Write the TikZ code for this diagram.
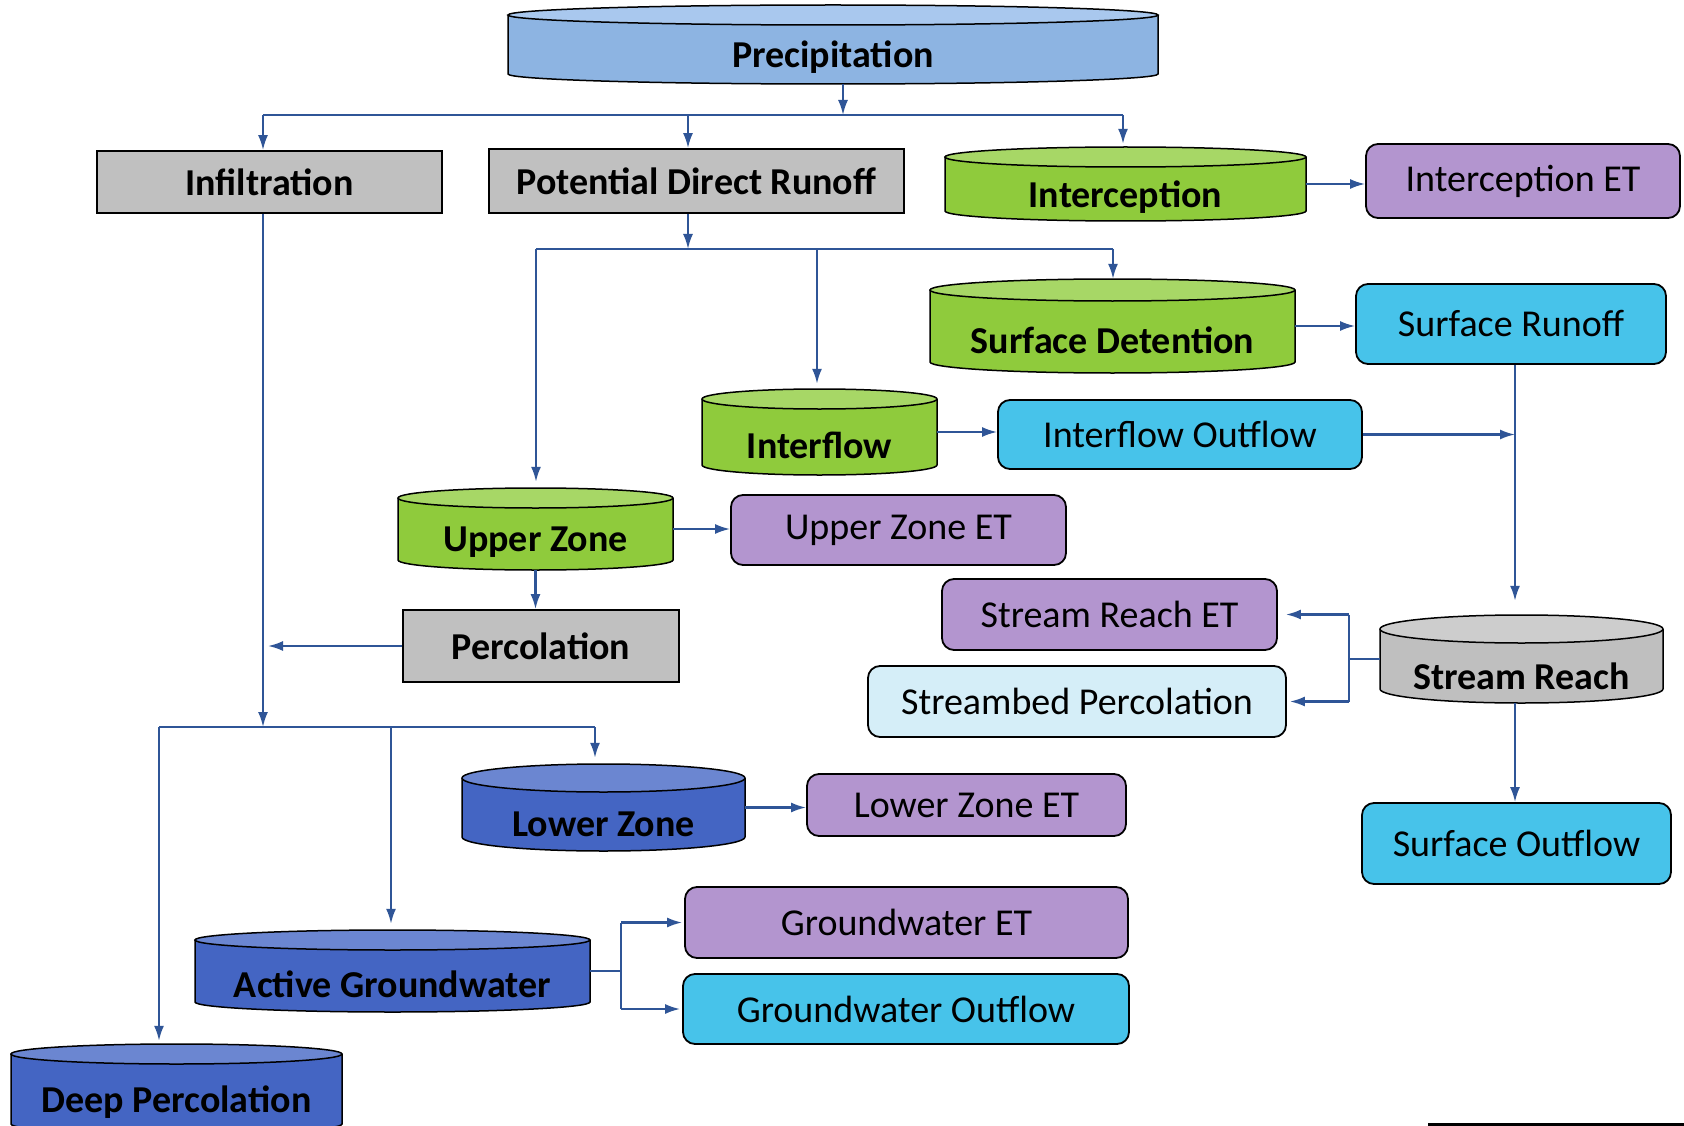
\documentclass[tikz,border=0pt]{standalone}
\usepackage{fontspec}
\setmainfont{Carlito}
\usetikzlibrary{arrows.meta}
\definecolor{arrowc}{HTML}{2F5597}
\definecolor{prbody}{HTML}{8DB4E2}
\definecolor{prtop}{HTML}{A9C8EE}
\definecolor{grbody}{HTML}{8FCB3C}
\definecolor{grtop}{HTML}{A7D766}
\definecolor{bluebody}{HTML}{4465C3}
\definecolor{bluetop}{HTML}{6B86D1}
\definecolor{graybody}{HTML}{BFBFBF}
\definecolor{graytop}{HTML}{CDCDCD}
\definecolor{purplef}{HTML}{B395CF}
\definecolor{cyanf}{HTML}{47C3EA}
\definecolor{lightbf}{HTML}{D5EEF8}
\definecolor{grayf}{HTML}{C0C0C0}
\newcommand\cylnode[9]{%
 \pgfmathsetmacro\cylcx{(#2+#3)/2}%
 \pgfmathsetmacro\cylrx{(#3-#2)/2}%
 \pgfmathsetmacro\cylyt{-(#4+#6)}%
 \pgfmathsetmacro\cylyb{-(#5-#6)}%
 \pgfmathsetmacro\cylym{-(#4+#5)/2}%
 \pgfmathsetmacro\cylytx{-(#4+2*#6+#5)/2-3}%
 \pgfmathsetmacro\cylw{#3-#2}%
 \pgfmathsetmacro\cylh{#5-#4}%
 \fill[#7] (#2,\cylyt) -- (#2,\cylyb) arc[start angle=180,end angle=360,x radius=\cylrx,y radius=#6] -- (#3,\cylyt) arc[start angle=0,end angle=180,x radius=\cylrx,y radius=#6] -- cycle;
 \filldraw[fill=#8, draw=black, line width=1.5pt] (\cylcx,\cylyt) ellipse[x radius=\cylrx, y radius=#6];
 \draw[black, line width=1.5pt] (#2,\cylyt) -- (#2,\cylyb) arc[start angle=180,end angle=360,x radius=\cylrx,y radius=#6] -- (#3,\cylyt);
 \node[inner sep=0pt, minimum width=\cylw pt, minimum height=\cylh pt] (#1) at (\cylcx,\cylym) {};
 \node[cyltxt] (#1-t) at (\cylcx,\cylytx) {#9};
}
\begin{document}
\begin{tikzpicture}[x=1pt,y=1pt,
 ln/.style={draw=arrowc, line width=2.1pt},
 arr/.style={ln, -{Latex[length=15pt,width=10pt]}},
 cyltxt/.style={font=\fontsize{38}{44}\selectfont\bfseries, inner sep=0pt},
 gbox/.style={draw=black, line width=1.8pt, fill=grayf, inner sep=0pt, font=\fontsize{38}{44}\selectfont\bfseries},
 rbox/.style={draw=black, line width=1.8pt, rounded corners=12pt, inner sep=0pt, font=\fontsize{38}{44}\selectfont},
 pbox/.style={rbox, fill=purplef},
 cbox/.style={rbox, fill=cyanf},
 lbox/.style={rbox, fill=lightbf}]
\useasboundingbox (0,0) rectangle (1684,-1126);
\fill[white] (0,0) rectangle (1684,-1126);
\clip (0,0) rectangle (1684,-1126);

% cylinders: name, L, R, T, B, ry, body, top, text
\cylnode{prec}{508}{1158}{5}{84}{10}{prbody}{prtop}{Precipitation}
\cylnode{intc}{945}{1306}{147}{221}{10}{grbody}{grtop}{Interception}
\cylnode{sd}{930}{1295}{279}{373}{11}{grbody}{grtop}{Surface Detention}
\cylnode{ifl}{702}{937}{389}{475}{10}{grbody}{grtop}{Interflow}
\cylnode{uz}{398}{673}{488}{570}{10}{grbody}{grtop}{Upper Zone}
\cylnode{strr}{1380}{1663}{615}{703}{14}{graybody}{graytop}{Stream Reach}
\cylnode{lz}{462}{745}{764}{851}{14}{bluebody}{bluetop}{Lower Zone}
\cylnode{ag}{195}{590}{930}{1012}{10}{bluebody}{bluetop}{Active Groundwater}
\cylnode{dp}{11}{342}{1044}{1134}{10}{bluebody}{bluetop}{Deep Percolation}

% rectangular boxes
\node[gbox, minimum width=345pt, minimum height=62pt] (infl) at (269.5,-182) {Infiltration};
\node[gbox, minimum width=415pt, minimum height=64pt] (pdr) at (696.5,-181) {Potential Direct Runoff};
\node[gbox, minimum width=276pt, minimum height=72pt] (perc) at (541,-646) {Percolation};

% rounded boxes
\node[pbox, minimum width=314pt, minimum height=74pt] (iet) at (1523,-181) {Interception ET};
\node[cbox, minimum width=310pt, minimum height=80pt] (srun) at (1511,-324) {Surface Runoff};
\node[cbox, minimum width=364pt, minimum height=69pt] (io) at (1180,-434.5) {Interflow Outflow};
\node[pbox, minimum width=335pt, minimum height=70pt] (uzet) at (898.5,-530) {Upper Zone ET};
\node[pbox, minimum width=335pt, minimum height=71pt] (sret) at (1109.5,-614.5) {Stream Reach ET};
\node[lbox, minimum width=418pt, minimum height=71pt] (sp) at (1077,-701.5) {Streambed Percolation};
\node[cbox, minimum width=309pt, minimum height=81pt] (sout) at (1516.5,-843.5) {Surface Outflow};
\node[pbox, minimum width=319pt, minimum height=62pt] (lzet) at (966.5,-805) {Lower Zone ET};
\node[pbox, minimum width=443pt, minimum height=71pt] (gwet) at (906.5,-922.5) {Groundwater ET};
\node[cbox, minimum width=446pt, minimum height=70pt] (gwo) at (906,-1009) {Groundwater Outflow};

% junction coordinates
\coordinate (j1) at (843,-115);
\coordinate (j1l) at (263,-115);
\coordinate (j1m) at (688,-115);
\coordinate (j1r) at (1123,-115);
\coordinate (j2) at (688,-249);
\coordinate (j2l) at (536,-249);
\coordinate (j2m) at (817,-249);
\coordinate (j2r) at (1113,-249);
\coordinate (ib) at (263,-727);
\coordinate (bl) at (159,-727);
\coordinate (bm) at (391,-727);
\coordinate (br) at (595,-727);
\coordinate (rc) at (1515,-438);
\coordinate (srj) at (1349,-659);
\coordinate (agj) at (621,-971);

% precipitation split
\draw[arr] (prec.south -| j1) -- (j1);
\draw[ln] (j1l) -- (j1r);
\draw[arr] (j1l) -- (j1l |- infl.north);
\draw[arr] (j1m) -- (j1m |- pdr.north);
\draw[arr, shorten >=3pt] (j1r) -- (j1r |- intc.north);
\draw[arr] (intc.east) -- (intc.east -| iet.west);

% potential direct runoff split
\draw[arr] (j2 |- pdr.south) -- (j2);
\draw[ln] (j2l) -- (j2r);
\draw[arr, shorten >=6pt] (j2l) -- (j2l |- uz.north);
\draw[arr, shorten >=5pt] (j2m) -- (j2m |- ifl.north);
\draw[arr] (j2r) -- (j2r |- sd.north);
\draw[arr] (sd.east) -- (sd.east -| srun.west);
\draw[arr] (ifl.east) -- (ifl.east -| io.west);
\draw[arr] (uz.east) -- (uz.east -| uzet.west);
\draw[arr] (uz.south) -- (uz.south |- perc.north);

% surface routing
\draw[arr] (io.east) -- (io.east -| rc);
\draw[arr, shorten >=14pt] (rc |- srun.south) -- (rc |- strr.north);
\draw[arr] (rc |- strr.south) -- (rc |- sout.north);
\draw[ln] (strr.west) -- (srj);
\draw[ln] (srj |- sret.east) -- (srj |- sp.east);
\draw[arr, shorten >=8pt] (srj |- sret.east) -- (sret.east);
\draw[arr, shorten >=3pt] (srj |- sp.east) -- (sp.east);

% infiltration / percolation
\draw[arr] (j1l |- infl.south) -- (ib);
\draw[arr, shorten >=5pt] (perc.west) -- (perc.west -| ib);
\draw[ln] (bl) -- (br);
\draw[arr, shorten >=3pt] (bl) -- (bl |- dp.north);
\draw[arr, shorten >=6pt] (bm) -- (bm |- ag.north);
\draw[arr, shorten >=6pt] (br) -- (br |- lz.north);
\draw[arr] (lz.east) -- (lz.east -| lzet.west);

% groundwater
\draw[ln] (ag.east) -- (agj);
\draw[ln] (agj |- gwet.west) -- (agj |- gwo.west);
\draw[arr, shorten >=2pt] (agj |- gwet.west) -- (gwet.west);
\draw[arr, shorten >=2pt] (agj |- gwo.west) -- (gwo.west);

% stray rule at bottom right
\coordinate (rulea) at (1428,-1124);
\coordinate (ruleb) at (1684,-1124);
\draw[black, line width=3pt] (rulea) -- (ruleb);
\end{tikzpicture}
\end{document}
